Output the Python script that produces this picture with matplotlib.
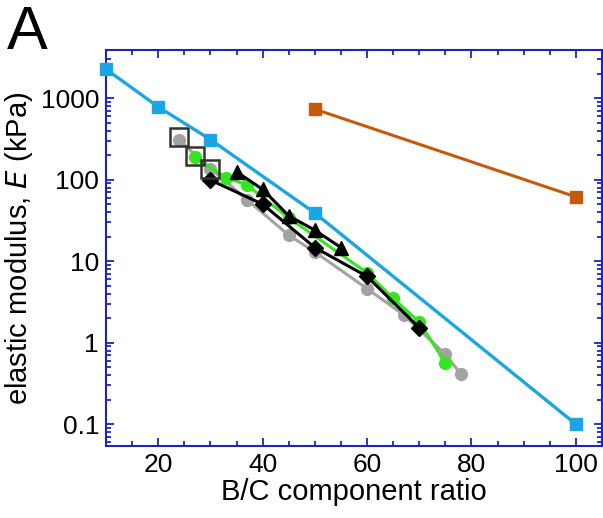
import matplotlib
matplotlib.use("Agg")
import matplotlib.pyplot as plt
from matplotlib.ticker import MultipleLocator, LogLocator, NullFormatter, FixedLocator, FixedFormatter

plt.rcParams['font.family'] = ['Liberation Sans', 'DejaVu Sans']

# Data
cyan_x = [10, 20, 30, 50, 100]
cyan_y = [2270, 782, 311, 39, 0.1]

orange_x = [50, 100]
orange_y = [733, 61.5]

gray_x = [24, 30, 37, 45, 50, 60, 67, 75, 78]
gray_y = [305, 137, 57, 20.8, 13, 4.6, 2.2, 0.72, 0.41]

open_x = [24, 27, 30]
open_y = [330, 193, 137]

green_x = [27, 33, 37, 45, 60, 65, 70, 75]
green_y = [188, 106, 86, 34, 7.2, 3.5, 1.8, 0.565]

diamond_x = [30, 40, 50, 60, 70]
diamond_y = [99, 50, 14.7, 6.5, 1.52]

tri_x = [35, 40, 45, 50, 55]
tri_y = [125, 76, 36, 24, 14.7]

xticks = [20, 40, 60, 80, 100]
yticks = [0.1, 1, 10, 100, 1000]
ytick_labels = ['0.1', '1', '10', '100', '1000']

CYAN = '#1AA6E4'
ORANGE = '#C55A0C'
GREEN = '#33E61E'
GRAY = '#A3A3A3'
SPINE = '#2222BB'

fig = plt.figure(figsize=(6.03, 5.18), dpi=100)
ax = fig.add_axes([0.1758, 0.139, 0.8225, 0.7645])

ax.plot(gray_x, gray_y, color=GRAY, lw=2.2, marker='o', ms=8.5, mec=GRAY, mfc=GRAY, zorder=2)
ax.plot(green_x, green_y, color=GREEN, lw=2.2, marker='o', ms=8.5, mec=GREEN, mfc=GREEN, zorder=3)
ax.plot(diamond_x, diamond_y, color='black', lw=2.2, marker='D', ms=8, zorder=4)
ax.plot(tri_x, tri_y, color='black', lw=2.2, marker='^', ms=10, zorder=4)
ax.plot(open_x, open_y, linestyle='none', marker='s', ms=12.5, mfc='none', mec='#333333', mew=1.8, zorder=5)
ax.plot(cyan_x, cyan_y, color=CYAN, lw=2.4, marker='s', ms=8.5, zorder=6, clip_on=False)
ax.plot(orange_x, orange_y, color=ORANGE, lw=2.2, marker='s', ms=8.5, zorder=6)

ax.set_yscale('log')
ax.set_xlim(10, 105)
ax.set_ylim(0.054, 3900)

ax.xaxis.set_major_locator(FixedLocator(xticks))
ax.xaxis.set_minor_locator(MultipleLocator(5))
ax.yaxis.set_major_locator(FixedLocator(yticks))
ax.yaxis.set_major_formatter(FixedFormatter(ytick_labels))
ax.yaxis.set_minor_locator(LogLocator(base=10, subs=range(2, 10), numticks=20))
ax.yaxis.set_minor_formatter(NullFormatter())

for s in ax.spines.values():
    s.set_color(SPINE)
    s.set_linewidth(1.5)
ax.tick_params(which='both', direction='in', top=True, right=True, color=SPINE,
               labelcolor='black', labelsize=19, width=1.3)
ax.tick_params(which='major', length=6, pad=5)
ax.tick_params(which='minor', length=3.5)

ax.set_xlabel('B/C component ratio', fontsize=21, labelpad=1)
ax.set_ylabel('elastic modulus, $\\mathit{E}$ (kPa)', fontsize=21, labelpad=4)

fig.text(0.012, 0.99, 'A', fontsize=44, va='top', ha='left')

fig.savefig('out.png', dpi=100)
